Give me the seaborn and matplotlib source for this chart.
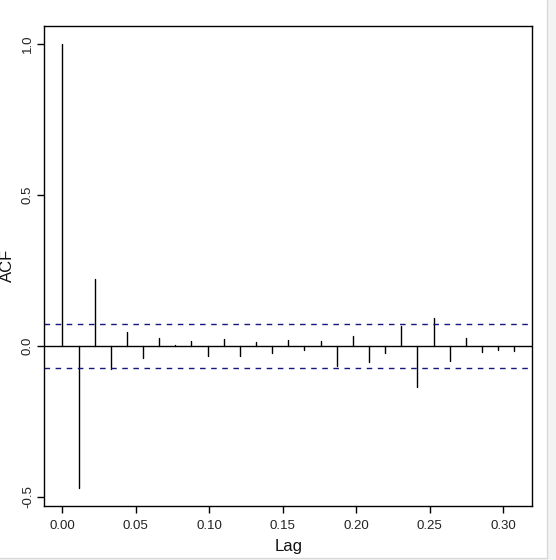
import numpy as np
import pandas as pd
import matplotlib
matplotlib.use("Agg")
import matplotlib.pyplot as plt
import seaborn as sns

# ---- data ----
lag_step = 1 / 91
acf_values = [1.0, -0.471, 0.223, -0.077, 0.046, -0.039, 0.026, 0.004, 0.017,
              -0.035, 0.023, -0.032, 0.014, -0.025, 0.020, -0.013, 0.017,
              -0.068, 0.033, -0.052, -0.025, 0.067, -0.135, 0.093, -0.050,
              0.026, -0.019, -0.013, -0.017]
ci_bound = 0.0717
x_ticks = [0.00, 0.05, 0.10, 0.15, 0.20, 0.25, 0.30]
x_tick_labels = ["0.00", "0.05", "0.10", "0.15", "0.20", "0.25", "0.30"]
y_ticks = [-0.5, 0.0, 0.5, 1.0]
y_tick_labels = ["-0.5", "0.0", "0.5", "1.0"]

lags = np.arange(len(acf_values)) * lag_step

sns.set_style("ticks")
plt.rcParams["font.family"] = ["Liberation Sans", "DejaVu Sans"]

fig = plt.figure(figsize=(5.56, 5.60), dpi=100)
W, H = 556, 560
ax_left, ax_right, ax_top, ax_bottom = 44.3, 532.3, 26, 506
ax = fig.add_axes([ax_left / W, (H - ax_bottom) / H, (ax_right - ax_left) / W,
                   (ax_bottom - ax_top) / H])

# spikes as long-form data, one unit per lag
rows = []
for i, (lg, v) in enumerate(zip(lags, acf_values)):
    rows.append({"lag": lg, "acf": 0.0, "unit": i})
    rows.append({"lag": lg, "acf": v, "unit": i})
df = pd.DataFrame(rows)
sns.lineplot(data=df, x="lag", y="acf", units="unit", estimator=None,
             color="black", linewidth=1.0, sort=False, ax=ax, legend=False)

ax.axhline(0, color="black", linewidth=1.0)
for b in (ci_bound, -ci_bound):
    ax.axhline(b, color="#16167e", linewidth=1.0, linestyle=(0, (4, 4)))

xr = lags[-1] - lags[0]
ax.set_xlim(lags[0] - 0.04 * xr, lags[-1] + 0.04 * xr)
ymin, ymax = min(acf_values), max(acf_values)
yr = ymax - ymin
ax.set_ylim(ymin - 0.04 * yr, ymax + 0.04 * yr)

ax.set_xticks(x_ticks)
ax.set_xticklabels(x_tick_labels)
ax.set_yticks(y_ticks)
ax.set_yticklabels(y_tick_labels, rotation=90, va="center")
ax.tick_params(axis="both", length=5, width=1.0, color="black",
               labelsize=9.5, labelcolor="#222222")
ax.tick_params(axis="x", pad=5)
ax.tick_params(axis="y", pad=2.5)
for s in ax.spines.values():
    s.set_visible(True)
    s.set_color("black")
    s.set_linewidth(1.0)

ax.set_xlabel("Lag", fontsize=12, color="#111111")
ax.xaxis.label.set_va("center")
ax.xaxis.set_label_coords(0.5, (ax_bottom - 546) / (ax_bottom - ax_top))
ax.set_ylabel("ACF", fontsize=12, color="#111111")
ax.yaxis.label.set_va("center")
ax.yaxis.set_label_coords((7.5 - ax_left) / (ax_right - ax_left),
                          (ax_bottom - 265) / (ax_bottom - ax_top))

# screenshot border on right/bottom
fig.patches.append(plt.Rectangle((547 / W, 0), (W - 547) / W, 1, transform=fig.transFigure,
                                 facecolor="#f3f3f3", edgecolor="none", zorder=-1))
fig.patches.append(plt.Rectangle((0, 0), 1, (H - 558) / H, transform=fig.transFigure,
                                 facecolor="#f3f3f3", edgecolor="none", zorder=-1))
fig.add_artist(plt.Line2D([547 / W, 547 / W], [(H - 558) / H, 1], transform=fig.transFigure,
                          color="#d9d9d9", linewidth=1))
fig.add_artist(plt.Line2D([0, 547 / W], [(H - 558) / H, (H - 558) / H], transform=fig.transFigure,
                          color="#d9d9d9", linewidth=1))

fig.savefig("out.png", dpi=100)
